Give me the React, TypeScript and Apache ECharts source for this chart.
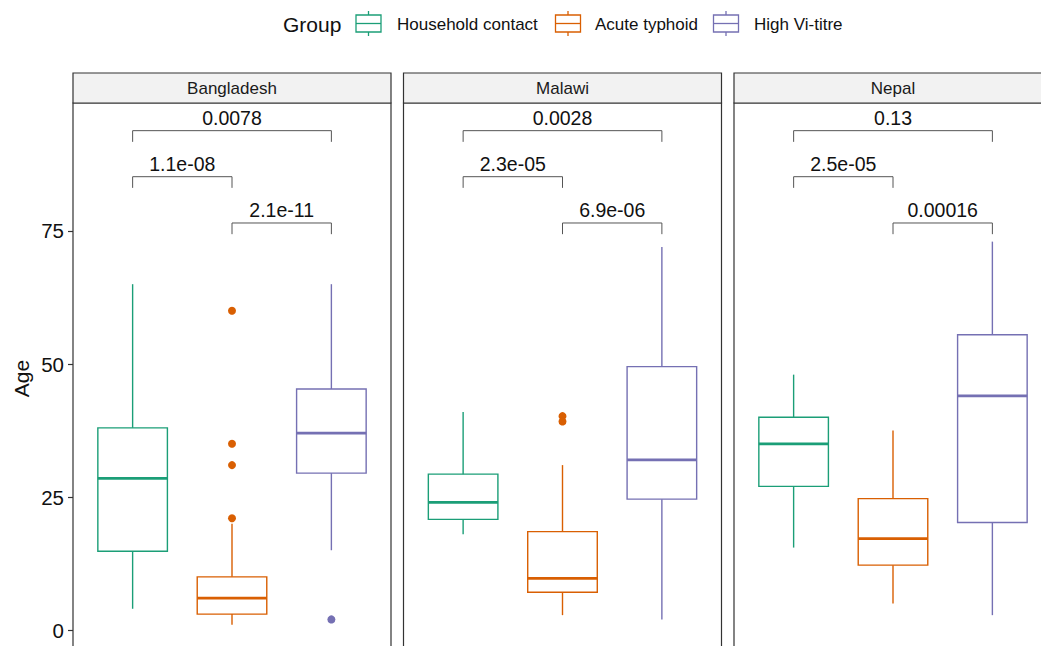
import React, { useEffect, useRef } from "react";
import * as echarts from "echarts";

// ---- data ----
const countries = ["Bangladesh", "Malawi", "Nepal"];
const groups = ["Household contact", "Acute typhoid", "High Vi-titre"];
const groupColors = ["#1B9E77", "#D95F02", "#7570B3"];
const yTicks = [0, 25, 50, 75];

// box stats per group: [min, q1, median, q3, max]
const bangladeshStats = [
  [4, 14.8, 28.5, 38, 65],
  [1, 3, 6, 10, 20],
  [15, 29.5, 37, 45.3, 65],
];
const malawiStats = [
  [18, 20.8, 24, 29.3, 41],
  [2.8, 7.1, 9.7, 18.5, 31],
  [2, 24.6, 32, 49.5, 72],
];
const nepalStats = [
  [15.5, 27, 35, 40, 48],
  [5, 12.2, 17.2, 24.7, 37.5],
  [2.8, 20.2, 44, 55.5, 73],
];

// outliers: [group position (1..3), age]
const bangladeshOutliers = [[2, 60], [2, 35], [2, 31], [2, 21], [3, 2]];
const malawiOutliers = [[2, 40.2], [2, 39.2]];
const nepalOutliers: number[][] = [];

// pairwise comparisons
const comparisonPairs = [[1, 3], [1, 2], [2, 3]];
const bracketLevels = [93.85, 85.2, 76.5];
const bangladeshP = ["0.0078", "1.1e-08", "2.1e-11"];
const malawiP = ["0.0028", "2.3e-05", "6.9e-06"];
const nepalP = ["0.13", "2.5e-05", "0.00016"];

const allStats = [bangladeshStats, malawiStats, nepalStats];
const allOutliers = [bangladeshOutliers, malawiOutliers, nepalOutliers];
const allP = [bangladeshP, malawiP, nepalP];

// ---- layout ----
const FONT = '"Liberation Sans", Arial, Helvetica, sans-serif';
const panelLefts = [73, 403.5, 734];
const panelWidth = 318;
const panelTop = 103;
const panelHeight = 551;
const stripTop = 73;
const stripHeight = 30;
const Y_MIN = -4.5;
const Y_MAX = 99.05;
const TICK_DROP = 2.1;

export default function App() {
  const ref = useRef<HTMLDivElement>(null);
  useEffect(() => {
    if (!ref.current) return;
    const chart = echarts.init(ref.current, null, { renderer: "svg" });

    const grids: any[] = [];
    const xAxes: any[] = [];
    const yAxes: any[] = [];
    const series: any[] = [];
    const graphics: any[] = [];

    countries.forEach((country, i) => {
      grids.push({
        left: panelLefts[i],
        top: panelTop,
        width: panelWidth,
        height: panelHeight,
        show: true,
        borderColor: "#333",
        borderWidth: 1.2,
        backgroundColor: "transparent",
        containLabel: false,
      });
      xAxes.push({
        type: "value",
        gridIndex: i,
        min: 0.4,
        max: 3.6,
        show: false,
      });
      yAxes.push({
        type: "value",
        gridIndex: i,
        min: Y_MIN,
        max: Y_MAX,
        splitLine: { show: false },
        axisLine: { show: false },
        axisTick:
          i === 0
            ? {
                show: true,
                length: 5,
                customValues: yTicks,
                lineStyle: { color: "#333", width: 1.2 },
              }
            : { show: false },
        axisLabel:
          i === 0
            ? {
                show: true,
                customValues: yTicks,
                fontSize: 20.5,
                color: "#111",
                margin: 9,
                fontFamily: FONT,
              }
            : { show: false },
        name: i === 0 ? "Age" : "",
        nameLocation: "middle",
        nameGap: 41,
        nameTextStyle: { fontSize: 21, color: "#111", fontFamily: FONT },
      });

      const stats = allStats[i];
      series.push({
        type: "custom",
        xAxisIndex: i,
        yAxisIndex: i,
        data: stats.map((s, j) => [j + 1, ...s]),
        renderItem: (params: any, api: any) => {
          const x = api.value(0);
          const mn = api.value(1);
          const q1 = api.value(2);
          const md = api.value(3);
          const q3 = api.value(4);
          const mx = api.value(5);
          const color = groupColors[params.dataIndex];
          const half = api.size([0.7, 0])[0] / 2;
          const pMin = api.coord([x, mn]);
          const pQ1 = api.coord([x, q1]);
          const pMd = api.coord([x, md]);
          const pQ3 = api.coord([x, q3]);
          const pMax = api.coord([x, mx]);
          const lineStyle = { stroke: color, lineWidth: 1.4, fill: null };
          return {
            type: "group",
            children: [
              {
                type: "line",
                shape: { x1: pMax[0], y1: pMax[1], x2: pQ3[0], y2: pQ3[1] },
                style: lineStyle,
              },
              {
                type: "line",
                shape: { x1: pQ1[0], y1: pQ1[1], x2: pMin[0], y2: pMin[1] },
                style: lineStyle,
              },
              {
                type: "rect",
                shape: {
                  x: pQ3[0] - half,
                  y: pQ3[1],
                  width: half * 2,
                  height: pQ1[1] - pQ3[1],
                },
                style: { stroke: color, lineWidth: 1.4, fill: "transparent" },
              },
              {
                type: "line",
                shape: {
                  x1: pMd[0] - half,
                  y1: pMd[1],
                  x2: pMd[0] + half,
                  y2: pMd[1],
                },
                style: { stroke: color, lineWidth: 2.8 },
              },
            ],
          };
        },
      });

      series.push({
        type: "scatter",
        xAxisIndex: i,
        yAxisIndex: i,
        symbol: "circle",
        symbolSize: 8,
        data: allOutliers[i].map((o) => ({
          value: o,
          itemStyle: { color: groupColors[o[0] - 1], opacity: 1 },
        })),
      });

      const pLabels = allP[i];
      series.push({
        type: "custom",
        xAxisIndex: i,
        yAxisIndex: i,
        data: comparisonPairs.map((p, k) => [p[0], p[1], bracketLevels[k]]),
        renderItem: (params: any, api: any) => {
          const x1 = api.value(0);
          const x2 = api.value(1);
          const lv = api.value(2);
          const a = api.coord([x1, lv]);
          const b = api.coord([x2, lv]);
          const a2 = api.coord([x1, lv - TICK_DROP]);
          const b2 = api.coord([x2, lv - TICK_DROP]);
          return {
            type: "group",
            children: [
              {
                type: "polyline",
                shape: {
                  points: [
                    [a2[0], a2[1]],
                    [a[0], a[1]],
                    [b[0], b[1]],
                    [b2[0], b2[1]],
                  ],
                },
                style: { stroke: "#555", lineWidth: 1, fill: null },
              },
              {
                type: "text",
                x: (a[0] + b[0]) / 2,
                y: a[1] - 13,
                style: {
                  text: pLabels[params.dataIndex],
                  fill: "#111",
                  fontSize: 19.5,
                  fontFamily: FONT,
                  align: "center",
                  verticalAlign: "middle",
                },
              },
            ],
          };
        },
      });

      // facet strip
      graphics.push({
        type: "rect",
        shape: { x: panelLefts[i], y: stripTop, width: panelWidth, height: stripHeight },
        style: { fill: "#F2F2F2", stroke: "#333", lineWidth: 1.2 },
      });
      graphics.push({
        type: "text",
        x: panelLefts[i] + panelWidth / 2,
        y: stripTop + stripHeight / 2,
        style: {
          text: country,
          fill: "#1a1a1a",
          fontSize: 17,
          fontFamily: FONT,
          align: "center",
          verticalAlign: "middle",
        },
      });
    });

    // legend
    const keyCenters = [368.5, 568, 726];
    const textLefts = [397, 595, 754];
    graphics.push({
      type: "text",
      x: 283,
      y: 24,
      style: {
        text: "Group",
        fill: "#111",
        fontSize: 21,
        fontFamily: FONT,
        align: "left",
        verticalAlign: "middle",
      },
    });
    groups.forEach((g, j) => {
      const c = keyCenters[j];
      const col = groupColors[j];
      graphics.push({
        type: "line",
        shape: { x1: c, y1: 11, x2: c, y2: 15 },
        style: { stroke: col, lineWidth: 1.3 },
      });
      graphics.push({
        type: "line",
        shape: { x1: c, y1: 32, x2: c, y2: 36 },
        style: { stroke: col, lineWidth: 1.3 },
      });
      graphics.push({
        type: "rect",
        shape: { x: c - 12.5, y: 15, width: 25, height: 17 },
        style: { stroke: col, lineWidth: 1.3, fill: "transparent" },
      });
      graphics.push({
        type: "line",
        shape: { x1: c - 12.5, y1: 23.5, x2: c + 12.5, y2: 23.5 },
        style: { stroke: col, lineWidth: 1.3 },
      });
      graphics.push({
        type: "text",
        x: textLefts[j],
        y: 24,
        style: {
          text: g,
          fill: "#111",
          fontSize: 17,
          fontFamily: FONT,
          align: "left",
          verticalAlign: "middle",
        },
      });
    });

    chart.setOption({
      animation: false,
      backgroundColor: "#ffffff",
      textStyle: { fontFamily: FONT },
      grid: grids,
      xAxis: xAxes,
      yAxis: yAxes,
      series,
      graphic: graphics,
    });

    return () => chart.dispose();
  }, []);

  return (
    <div
      ref={ref}
      style={{ position: "fixed", left: 0, top: 0, width: 1070, height: 690 }}
    />
  );
}
